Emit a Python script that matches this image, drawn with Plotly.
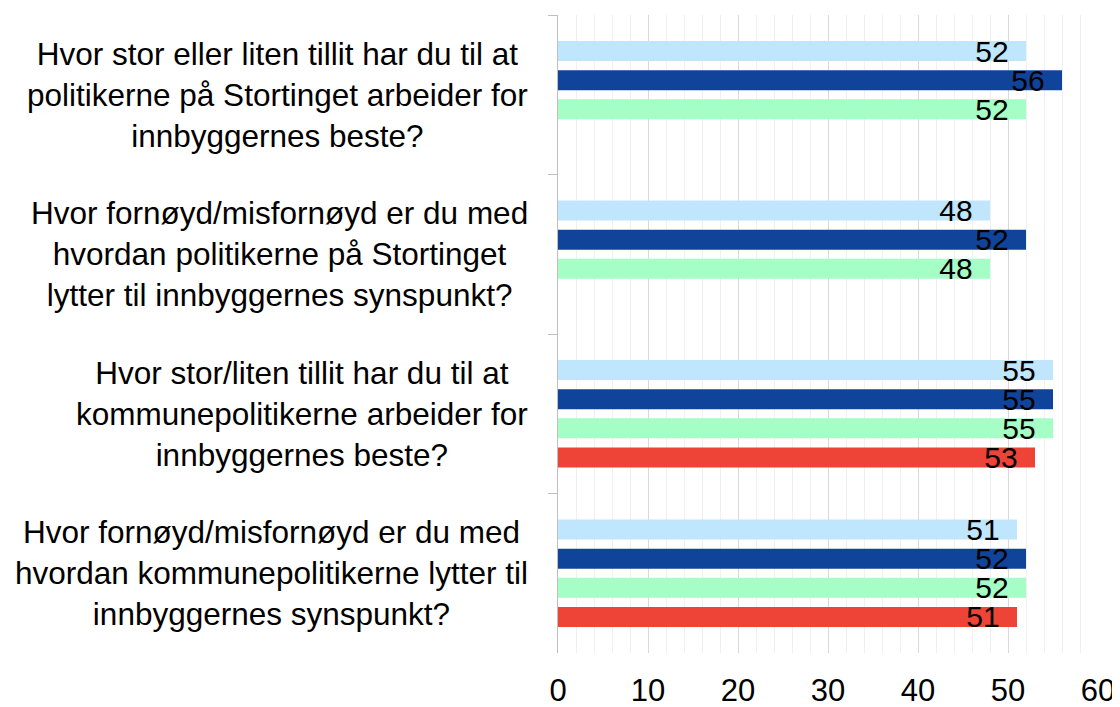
import plotly.graph_objects as go

categories = [
    "Hvor stor eller liten tillit har du til at<br>politikerne på Stortinget arbeider for<br>innbyggernes beste?",
    "Hvor fornøyd/misfornøyd er du med<br>hvordan politikerne på Stortinget<br>lytter til innbyggernes synspunkt?",
    "Hvor stor/liten tillit har du til at<br>kommunepolitikerne arbeider for<br>innbyggernes beste?",
    "Hvor fornøyd/misfornøyd er du med<br>hvordan kommunepolitikerne lytter til<br>innbyggernes synspunkt?",
]
series_names = ["Serie 1", "Serie 2", "Serie 3", "Serie 4"]
series_1 = [52, 48, 55, 51]
series_2 = [56, 52, 55, 52]
series_3 = [52, 48, 55, 52]
series_4 = [None, None, 53, 51]
colors = ["#BFE6FD", "#10449A", "#A5FEC5", "#EE4437"]
x_ticks = [0, 10, 20, 30, 40, 50, 60]

FONT = "Liberation Sans, Arial, sans-serif"

fig = go.Figure()
for name, vals, col in zip(series_names, [series_1, series_2, series_3, series_4], colors):
    fig.add_trace(go.Bar(
        y=categories, x=vals, orientation="h", name=name,
        marker=dict(color=col, line=dict(width=0)),
        text=[("" if v is None else f"{v}\u00a0\u2009") for v in vals],
        textposition="inside", insidetextanchor="end", constraintext="none",
        textfont=dict(family=FONT, size=30, color="black"),
        cliponaxis=False,
    ))

for c in categories:
    fig.add_annotation(
        x=-0.052, xref="paper", y=c, yref="y", text=c,
        xanchor="right", yanchor="middle", align="center", showarrow=False,
        font=dict(family=FONT, size=31.5, color="black"),
    )

fig.update_layout(
    width=1120, height=707,
    margin=dict(l=550, r=30, t=7, b=60),
    paper_bgcolor="white", plot_bgcolor="white",
    barmode="group", bargap=0.27, bargroupgap=0.315,
    showlegend=False,
    font=dict(family=FONT, size=31, color="black"),
)
fig.update_xaxes(
    range=[0, 60], tickvals=x_ticks, showgrid=True, gridcolor="#D9D9D9", gridwidth=1,
    minor=dict(dtick=2, showgrid=True, gridcolor="#F0F0F0", gridwidth=1),
    zeroline=False, showline=False,
    ticks="outside", ticklen=10, tickcolor="rgba(0,0,0,0)",
    tickfont=dict(family=FONT, size=31, color="black"),
)
fig.update_yaxes(
    autorange="reversed", showticklabels=False, showgrid=False,
    showline=True, linecolor="#BFBFBF", linewidth=1,
    ticks="outside", tickson="boundaries", ticklen=9, tickcolor="#BFBFBF",
)

fig.write_html("out.html")
